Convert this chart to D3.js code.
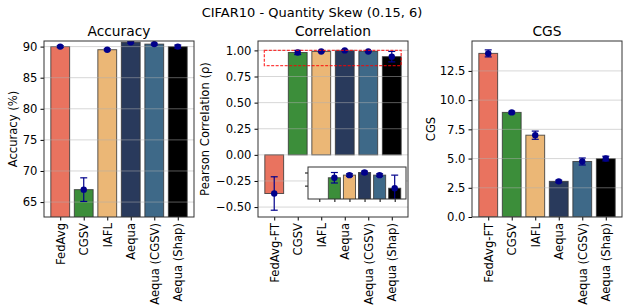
<!DOCTYPE html>
<html>
<head>
<meta charset="utf-8">
<script src="https://cdn.jsdelivr.net/npm/d3@7"></script>
<style>
  body { margin: 0; background: #fff; }
  text { font-family: "DejaVu Sans", sans-serif; fill: #000; }
</style>
</head>
<body>
<div id="chart"></div>
<script>
// data
var accNames = ['FedAvg', 'CGSV', 'IAFL', 'Aequa', 'Aequa (CGSV)', 'Aequa (Shap)'];
var names = ['FedAvg-FT', 'CGSV', 'IAFL', 'Aequa', 'Aequa (CGSV)', 'Aequa (Shap)'];
var accuracy = [90.0, 67.0, 89.5, 90.7, 90.4, 90.0];
var accuracyErr = [0.15, 1.9, 0.15, 0.15, 0.15, 0.25];
var correlation = [-0.37, 0.98, 0.99, 1.00, 0.99, 0.94];
var correlationErr = [0.16, 0.02, 0.005, 0.005, 0.005, 0.05];
var cgs = [14.0, 8.95, 7.0, 3.05, 4.75, 5.0];
var cgsErr = [0.3, 0.1, 0.35, 0.1, 0.3, 0.2];
var accTicks = [65, 70, 75, 80, 85, 90];
var corrTicks = [-0.5, -0.25, 0, 0.25, 0.5, 0.75, 1.0];
var cgsTicks = [0, 2.5, 5, 7.5, 10, 12.5];
var insetTicks = [0.95, 1.0];

var colors = ['#e9735f', '#3c8e3a', '#ebb776', '#293a5c', '#3e6988', '#000000'];
var errColor = '#00008b';

var W = 624, H = 306;
var svg = d3.select('#chart').append('svg').attr('width', W).attr('height', H);

svg.append('text').attr('x', 312).attr('y', 17)
  .attr('text-anchor', 'middle').style('font-size', '13px')
  .text('CIFAR10 - Quantity Skew (0.15, 6)');

var pTop = 41, pBottom = 217, pw = 150;
var fs = '11.6px';

function panel(opts) {
  var g = svg.append('g');
  var x = d3.scaleLinear().domain([-0.69, 5.69]).range([opts.left, opts.left + pw]);
  var y = d3.scaleLinear().domain(opts.ydom).range([pBottom, pTop]);
  var clipId = 'clip' + opts.left;
  svg.append('clipPath').attr('id', clipId).append('rect')
    .attr('x', opts.left).attr('y', pTop).attr('width', pw).attr('height', pBottom - pTop);
  var inner = g.append('g').attr('clip-path', 'url(#' + clipId + ')');
  var base = opts.base !== undefined ? opts.base : 0;

  inner.selectAll('rect.bar').data(opts.values).enter().append('rect')
    .attr('class', 'bar')
    .attr('x', function(d, i) { return x(i - 0.4); })
    .attr('width', x(0.8) - x(0))
    .attr('y', function(d) { return Math.min(y(d), y(base)); })
    .attr('height', function(d) { return Math.abs(y(d) - y(base)); })
    .attr('fill', function(d, i) { return colors[i]; })
    .attr('stroke', '#333').attr('stroke-opacity', 0.8).attr('stroke-width', 1);

  // grid
  inner.selectAll('line.grid').data(opts.ticks).enter().append('line')
    .attr('x1', opts.left).attr('x2', opts.left + pw)
    .attr('y1', function(d) { return y(d); }).attr('y2', function(d) { return y(d); })
    .attr('stroke', '#b0b0b0').attr('stroke-opacity', 0.5).attr('stroke-width', 1);

  // error bars
  opts.values.forEach(function(v, i) {
    var e = opts.errs[i], cx = x(i);
    inner.append('line').attr('x1', cx).attr('x2', cx)
      .attr('y1', y(v - e)).attr('y2', y(v + e)).attr('stroke', errColor).attr('stroke-width', 1.2);
    [v - e, v + e].forEach(function(t) {
      inner.append('line').attr('x1', cx - 3.5).attr('x2', cx + 3.5)
        .attr('y1', y(t)).attr('y2', y(t)).attr('stroke', errColor).attr('stroke-width', 1.2);
    });
    inner.append('circle').attr('cx', cx).attr('cy', y(v)).attr('r', 3.2).attr('fill', errColor);
  });

  // axes
  var ya = g.append('g').attr('transform', 'translate(' + opts.left + ',0)')
    .call(d3.axisLeft(y).tickValues(opts.ticks).tickFormat(opts.fmt).tickSize(3.5).tickPadding(3));
  ya.selectAll('text').style('font-size', fs).style('font-family', '"DejaVu Sans", sans-serif');
  ya.select('.domain').remove();
  var xa = g.append('g').attr('transform', 'translate(0,' + pBottom + ')')
    .call(d3.axisBottom(x).tickValues(d3.range(6)).tickFormat(function(d) { return opts.names[d]; })
      .tickSize(3.5).tickPadding(3));
  xa.select('.domain').remove();
  xa.selectAll('text').style('font-size', fs).style('font-family', '"DejaVu Sans", sans-serif')
    .attr('transform', 'rotate(-90)').attr('text-anchor', 'end')
    .attr('x', -6).attr('y', 0).attr('dy', '0.35em');

  g.append('rect').attr('x', opts.left).attr('y', pTop).attr('width', pw).attr('height', pBottom - pTop)
    .attr('fill', 'none').attr('stroke', '#333').attr('stroke-width', 1);

  g.append('text').attr('x', opts.left + pw / 2).attr('y', pTop - 5)
    .attr('text-anchor', 'middle').style('font-size', '13.8px').text(opts.title);
  g.append('text').attr('transform', 'translate(' + opts.labelX + ',' + ((pTop + pBottom) / 2) + ') rotate(-90)')
    .attr('text-anchor', 'middle').style('font-size', fs).text(opts.ylabel);
  return { x: x, y: y, g: g };
}

panel({ left: 44, ydom: [62.6, 90.9], values: accuracy, errs: accuracyErr, ticks: accTicks,
  fmt: d3.format('d'), names: accNames, title: 'Accuracy', ylabel: 'Accuracy (%)', labelX: 17, base: 0 });

var p2 = panel({ left: 258, ydom: [-0.595, 1.09], values: correlation, errs: correlationErr, ticks: corrTicks,
  fmt: d3.format('.2f'), names: names, title: 'Correlation', ylabel: 'Pearson Correlation (\u03c1)', labelX: 209 });

panel({ left: 472, ydom: [0, 15.06], values: cgs, errs: cgsErr, ticks: cgsTicks,
  fmt: d3.format('.1f'), names: names, title: 'CGS', ylabel: 'CGS', labelX: 435 });

// zoom rectangle on correlation panel
p2.g.append('rect')
  .attr('x', p2.x(-0.42)).attr('width', p2.x(5.4) - p2.x(-0.42))
  .attr('y', p2.y(1.0)).attr('height', p2.y(0.855) - p2.y(1.0))
  .attr('fill', 'none').attr('stroke', 'red').attr('stroke-opacity', 0.75)
  .attr('stroke-dasharray', '3,1.5').attr('stroke-width', 1.3);

// inset
var inL = 308, inR = 406, inT = 167, inB = 199;
var ix = d3.scaleLinear().domain([-0.75, 5.75]).range([inL, inR]);
var iy = d3.scaleLinear().domain([0.899, 1.021]).range([inB, inT]);
svg.append('rect').attr('x', inL).attr('y', inT).attr('width', inR - inL).attr('height', inB - inT).attr('fill', '#fff');
svg.append('clipPath').attr('id', 'clipInset').append('rect')
  .attr('x', inL).attr('y', inT).attr('width', inR - inL).attr('height', inB - inT);
var ig = svg.append('g').attr('clip-path', 'url(#clipInset)');
ig.selectAll('rect').data(correlation).enter().append('rect')
  .attr('x', function(d, i) { return ix(i - 0.4); })
  .attr('width', ix(0.8) - ix(0))
  .attr('y', function(d) { return iy(d); })
  .attr('height', function(d) { return Math.max(0, inB + 5 - iy(d)); })
  .attr('fill', function(d, i) { return colors[i]; })
  .attr('stroke', '#333').attr('stroke-opacity', 0.8);
correlation.forEach(function(v, i) {
  var e = correlationErr[i], cx = ix(i);
  ig.append('line').attr('x1', cx).attr('x2', cx).attr('y1', iy(v - e)).attr('y2', iy(v + e))
    .attr('stroke', errColor).attr('stroke-width', 1.2);
  [v - e, v + e].forEach(function(t) {
    ig.append('line').attr('x1', cx - 3.5).attr('x2', cx + 3.5).attr('y1', iy(t)).attr('y2', iy(t))
      .attr('stroke', errColor).attr('stroke-width', 1.2);
  });
  ig.append('circle').attr('cx', cx).attr('cy', iy(v)).attr('r', 3.2).attr('fill', errColor);
});
var iya = svg.append('g').attr('transform', 'translate(' + inL + ',0)')
  .call(d3.axisLeft(iy).tickValues(insetTicks).tickFormat('').tickSize(3));
iya.select('.domain').remove();
var ixa = svg.append('g').attr('transform', 'translate(0,' + inB + ')')
  .call(d3.axisBottom(ix).tickValues(d3.range(6)).tickFormat('').tickSize(3));
ixa.select('.domain').remove();
svg.append('rect').attr('x', inL).attr('y', inT).attr('width', inR - inL).attr('height', inB - inT)
  .attr('fill', 'none').attr('stroke', '#333');
</script>
</body>
</html>
